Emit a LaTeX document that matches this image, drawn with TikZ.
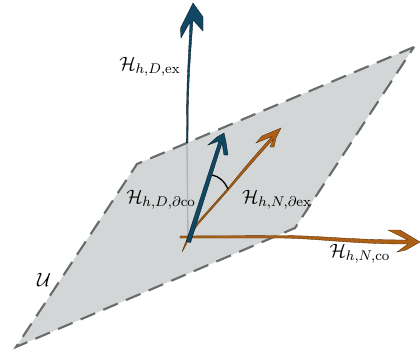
\documentclass[tikz,border=0pt]{standalone}
\usepackage{amsmath,amssymb}
\usepackage{tikz}
\definecolor{plane}{RGB}{210,214,214}
\definecolor{rim}{RGB}{105,107,107}
\definecolor{navy}{RGB}{16,72,100}
\definecolor{rust}{RGB}{172,96,22}
\definecolor{ghost}{RGB}{170,182,186}
\tikzset{
  vecD/.style={draw=black!70!navy,line width=.2pt,fill=navy},
  vecN/.style={draw=black!50!rust,line width=.2pt,fill=rust},
  lbl/.style={inner sep=0pt,font=\fontsize{11.2}{13}\selectfont}
}
\begin{document}
\begin{tikzpicture}[x=.02cm,y=-.02cm]
\useasboundingbox (0,0) rectangle (420,352);
% plane
\fill[plane] (414,47)--(137,164)--(16,347)--(295,228)--cycle;
\draw[rim,line width=1.2pt,dash pattern=on 9pt off 5pt] (414,47)--(137,164)--(16,347)--(295,228)--cycle;
% part behind the plane
\draw[ghost,line width=.8pt] (187,143)--(188,240);
% normal vector, exterior
\draw[vecD] (186.4,143)--(186.6,110) .. controls (187,70) and (189,50) .. (190,22)--(181,38)--(180.5,28)--(193,3)--(203,17)--(203,31)--(193,20) .. controls (191,50) and (189,70) .. (188.2,110)--(188,143)--cycle;
% normal vector, conormal
\draw[vecN] (180,236)--(280,235.5) .. controls (320,235.5) and (350,240) .. (408,240)--(388,230)--(400,230)--(420,242)--(406,250)--(397,252)--(408,244) .. controls (350,244) and (320,238.5) .. (280,238)--(180,238)--cycle;
% neumann vector in the plane
\draw[vecN] (182,252) .. controls (186,240) and (190,232) .. (197,223)--(228,188) .. controls (240,173) and (255,155) .. (272,136.5)--(256,143)--(262,136)--(281,128)--(276,138)--(274,147)--(270,147)--(273.5,139) .. controls (256,158) and (241,175.5) .. (229,189.5)--(198,224.5) .. controls (192,232) and (188,242) .. cycle;
% dirichlet vector in the plane
\draw[vecD] (186.2,241.5)--(219,141)--(208,145)--(217,137)--(224,133)--(226,142)--(228,155)--(224,155)--(222,143)--(190.6,242.5)--cycle;
% angle
\draw[black,line width=.75pt] (212,175) .. controls (219,176) and (225,182) .. (228,189);
\node[lbl] (lblDex) at (150,67) {$\mathcal{H}_{h,D,\mathrm{ex}}$};
\node[lbl] (lblDco) at (161,200) {$\mathcal{H}_{h,D,\partial\mathrm{co}}$};
\node[lbl] (lblNex) at (277,200) {$\mathcal{H}_{h,N,\partial\mathrm{ex}}$};
\node[lbl] (lblNco) at (360,254) {$\mathcal{H}_{h,N,\mathrm{co}}$};
\node[lbl] (lblU) at (44,280) {$\mathcal{U}$};
\end{tikzpicture}
\end{document}
